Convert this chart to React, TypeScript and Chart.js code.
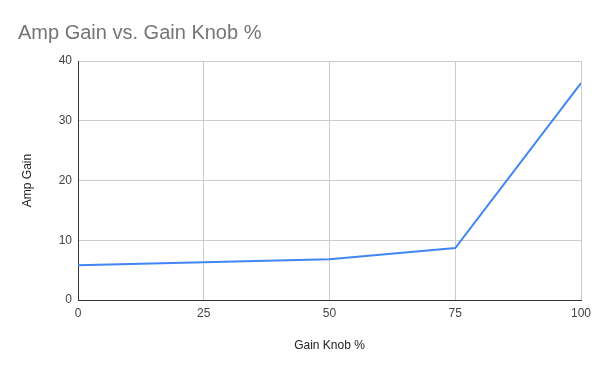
import React, { useEffect, useRef } from "react";
import { Chart, registerables } from "chart.js";

Chart.register(...registerables);

const knobPercent = [0, 25, 50, 75, 100];
const ampGain = [5.8, 6.3, 6.8, 8.7, 36.3];
const xTicks = [0, 25, 50, 75, 100];
const yTicks = [0, 10, 20, 30, 40];

export default function App() {
  const ref = useRef<HTMLCanvasElement | null>(null);
  useEffect(() => {
    if (!ref.current) return;
    const font = "Arial, 'Liberation Sans', sans-serif";
    const chart = new Chart(ref.current, {
      type: "line",
      data: {
        datasets: [
          {
            label: "Amp Gain",
            data: knobPercent.map((x, i) => ({ x, y: ampGain[i] })),
            borderColor: "#4285f4",
            backgroundColor: "#4285f4",
            borderWidth: 2,
            pointRadius: 0,
            tension: 0,
          },
        ],
      },
      options: {
        animation: false,
        responsive: false,
        maintainAspectRatio: false,
        layout: { padding: { left: 18, right: 19, top: 0, bottom: 13 } },
        plugins: {
          legend: { display: false },
          tooltip: { enabled: false },
          title: {
            display: true,
            text: "Amp Gain vs. Gain Knob %",
            align: "start",
            color: "#757575",
            font: { family: font, size: 20, weight: "normal" },
            padding: { top: 21, bottom: 16 },
          },
        },
        scales: {
          x: {
            type: "linear",
            min: 0,
            max: 100,
            afterBuildTicks: (s: any) => {
              s.ticks = xTicks.map((v) => ({ value: v }));
            },
            afterFit: (s: any) => {
              s.height = 58;
            },
            ticks: {
              color: "#444",
              font: { family: font, size: 12 },
              padding: 6,
              maxRotation: 0,
            },
            grid: { color: "#cccccc", drawTicks: false, lineWidth: 1 },
            border: { color: "#333", width: 1 },
            title: {
              display: true,
              text: "Gain Knob %",
              color: "#222",
              font: { family: font, size: 12 },
              padding: { top: 0, bottom: 5 },
            },
          },
          y: {
            type: "linear",
            min: 0,
            max: 40,
            afterBuildTicks: (s: any) => {
              s.ticks = yTicks.map((v) => ({ value: v }));
            },
            afterFit: (s: any) => {
              s.width = 60;
            },
            ticks: {
              color: "#444",
              font: { family: font, size: 12 },
              padding: 6,
            },
            grid: { color: "#cccccc", drawTicks: false, lineWidth: 1 },
            border: { color: "#333", width: 1 },
            title: {
              display: true,
              text: "Amp Gain",
              color: "#222",
              font: { family: font, size: 12 },
              padding: { top: 2, bottom: 0 },
            },
          },
        },
      },
    } as any);
    return () => chart.destroy();
  }, []);
  return (
    <div style={{ position: "absolute", left: 0, top: 0, width: 600, height: 371, background: "#fff" }}>
      <canvas ref={ref} width={600} height={371} style={{ display: "block", width: 600, height: 371 }} />
    </div>
  );
}
